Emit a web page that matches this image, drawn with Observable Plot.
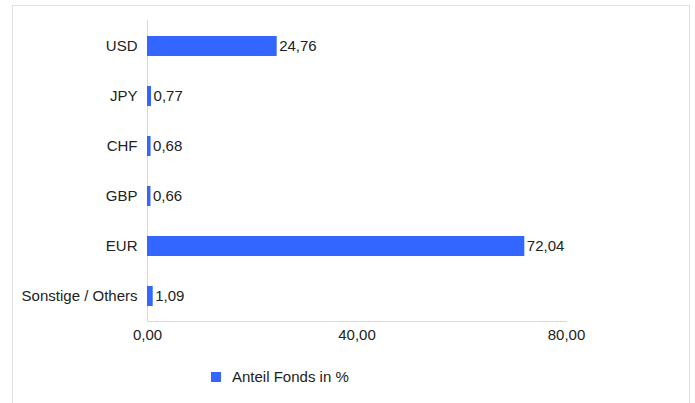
<!DOCTYPE html>
<html>
<head>
<meta charset="utf-8">
<script src="https://cdn.jsdelivr.net/npm/d3@7"></script>
<script src="https://cdn.jsdelivr.net/npm/@observablehq/plot@0.6"></script>
<style>
  html, body { margin: 0; padding: 0; background: #fff; }
  body { width: 695px; height: 403px; position: relative; overflow: hidden; font-family: "Liberation Sans", Arial, sans-serif; }
  #frame { position: absolute; left: 12px; top: 5px; width: 678px; height: 420px; border: 1px solid #e0e0e0; box-sizing: border-box; }
  #chart { position: absolute; left: 0; top: 0; }
  #legend { position: absolute; left: 211px; top: 368px; font-size: 15px; color: #222; display: flex; align-items: center; }
  #legend .sw { width: 10px; height: 10px; background: #3366ff; margin-right: 11px; }
</style>
</head>
<body>
<div id="frame"></div>
<div id="chart"></div>
<div id="legend"><span class="sw"></span><span>Anteil Fonds in %</span></div>
<script>
const categories = ["USD", "JPY", "CHF", "GBP", "EUR", "Sonstige / Others"];
const values = [24.76, 0.77, 0.68, 0.66, 72.04, 1.09];
const xTicks = [0, 40, 80];

const data = categories.map((c, i) => ({category: c, value: values[i]}));
const fmt = v => v.toFixed(2).replace(".", ",");

const chart = Plot.plot({
  width: 695,
  height: 350,
  marginLeft: 147,
  marginRight: 129,
  marginTop: 20,
  marginBottom: 29,
  style: {fontFamily: "'Liberation Sans', Arial, sans-serif", fontSize: "15px", color: "#222", background: "transparent"},
  x: {domain: [0, 80], ticks: xTicks, tickFormat: fmt, tickSize: 0, tickPadding: 8, label: null},
  y: {domain: categories, paddingInner: 0.6, paddingOuter: 0.3, tickSize: 0, tickPadding: 10, label: null},
  marks: [
    Plot.ruleX([0], {stroke: "#d9d9d9"}),
    Plot.barX(data, {y: "category", x: "value", fill: "#3366ff"}),
    Plot.text(data, {y: "category", x: "value", text: d => fmt(d.value), textAnchor: "start", dx: 2, fill: "#222"}),
    Plot.frame({anchor: "bottom", stroke: "#d9d9d9"})
  ]
});
document.getElementById("chart").appendChild(chart);
</script>
</body>
</html>
